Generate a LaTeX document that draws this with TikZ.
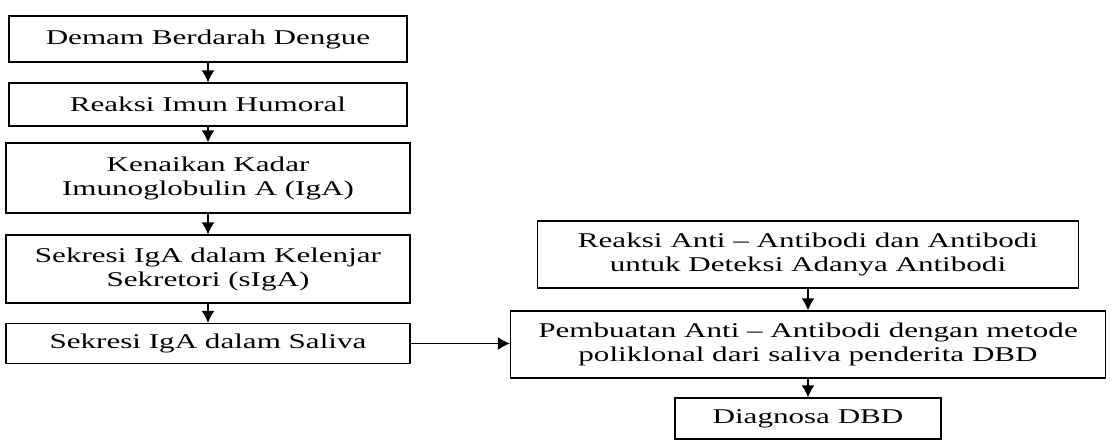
\documentclass[tikz,border=0pt]{standalone}
\usepackage{fontspec}
\setmainfont{Liberation Serif}[FakeStretch=1.48]
\usetikzlibrary{arrows.meta,positioning}

\begin{document}
\begin{tikzpicture}[x=1pt,y=-1pt,
		box/.style={draw,line width=1.3pt,align=center,inner sep=0pt,font=\fontsize{21}{24}\selectfont},
		flow/.style={line width=1.2pt,-{Latex[length=12pt,width=13pt]}}]
		\useasboundingbox (0,0) rectangle (1116,446);
		\node[box,minimum width=398pt,minimum height=46pt] (dbd) at (208,39) {Demam Berdarah Dengue};
		\node[box,minimum width=398pt,minimum height=43pt] (imun) at (208,104.5) {Reaksi Imun Humoral};
		\node[box,minimum width=404pt,minimum height=70pt] (iga) at (208,178) {Kenaikan Kadar\\Imunoglobulin A (IgA)};
		\node[box,minimum width=404pt,minimum height=68pt] (siga) at (208,269) {Sekresi IgA dalam Kelenjar\\Sekretori (sIgA)};
		\node[box,minimum width=404pt,minimum height=40pt] (saliva) at (208,343.5) {Sekresi IgA dalam Saliva};
		\node[box,minimum width=541pt,minimum height=67pt] (reaksi) at (808,254.5) {Reaksi Anti \textendash{} Antibodi dan Antibodi\\untuk Deteksi Adanya Antibodi};
		\node[box,minimum width=595pt,minimum height=67pt] (buat) at (808,344.5) {Pembuatan Anti \textendash{} Antibodi dengan metode\\poliklonal dari saliva penderita DBD};
		\node[box,minimum width=266pt,minimum height=41pt] (diag) at (808,418.5) {Diagnosa DBD};
		\draw[flow] (dbd) -- (imun);
		\draw[flow] (imun) -- (iga);
		\draw[flow] (iga) -- (siga);
		\draw[flow] (siga) -- (saliva);
		\draw[flow] (saliva.east) -- (saliva.east -| buat.west);
		\draw[flow] (reaksi) -- (buat);
		\draw[flow] (buat) -- (diag);
	\end{tikzpicture}
\end{document}
